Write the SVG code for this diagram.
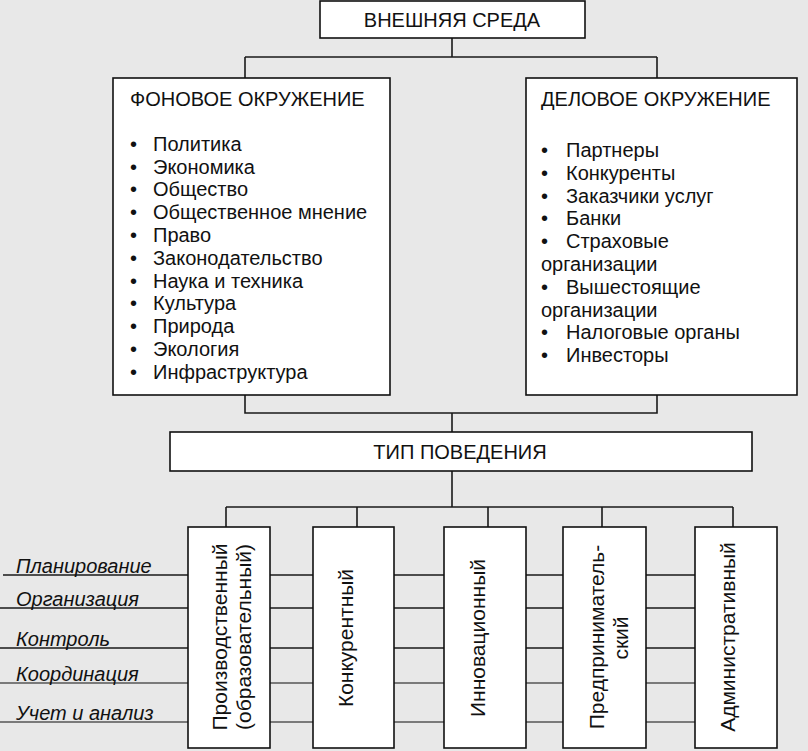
<svg xmlns="http://www.w3.org/2000/svg" width="808" height="751" viewBox="0 0 808 751">
<style>
.bg{fill:#e8e8e8}
.box{fill:#fff;stroke:#111;stroke-width:1.6}
.ln{fill:none;stroke:#1a1a1a;stroke-width:1.6}
.ln2{fill:none;stroke:#555;stroke-width:1.6}
text{font-family:"Liberation Sans",Arial,sans-serif;fill:#111;font-size:20px}
.c{text-anchor:middle}
.it{font-style:italic;font-size:20px}
.v{text-anchor:middle;font-size:21px}
</style>
<rect class="bg" x="0" y="0" width="808" height="751"/>
<g id="connectors">
<path class="ln" d="M452 38V57M245 57H657M245 57V78M657 57V78"/>
<path class="ln" d="M245 395V413H657V395M452 413V432"/>
<path class="ln" d="M452 471V507M226 507H733M226 507V527M357 507V527M488 507V527M602 507V527M733 507V527"/>
<path class="ln" d="M3 575H695M0 608H695M0 648H695"/>
<path class="ln2" d="M0 683H695M0 722H695"/>
</g>
<g id="n-vneshnyaya">
<rect class="box" x="320" y="1" width="265" height="37"/>
<text class="c" x="452" y="27">ВНЕШНЯЯ СРЕДА</text>
</g>
<g id="n-fonovoe">
<rect class="box" x="113" y="78" width="277" height="317"/>
<text x="130" y="106">ФОНОВОЕ ОКРУЖЕНИЕ</text>
<g>
<text x="130" y="151">•</text><text x="153" y="151">Политика</text>
<text x="130" y="174">•</text><text x="153" y="174">Экономика</text>
<text x="130" y="196">•</text><text x="153" y="196">Общество</text>
<text x="130" y="219">•</text><text x="153" y="219">Общественное мнение</text>
<text x="130" y="242">•</text><text x="153" y="242">Право</text>
<text x="130" y="265">•</text><text x="153" y="265">Законодательство</text>
<text x="130" y="288">•</text><text x="153" y="288">Наука и техника</text>
<text x="130" y="310">•</text><text x="153" y="310">Культура</text>
<text x="130" y="333">•</text><text x="153" y="333">Природа</text>
<text x="130" y="356">•</text><text x="153" y="356">Экология</text>
<text x="130" y="379">•</text><text x="153" y="379">Инфраструктура</text>
</g>
</g>
<g id="n-delovoe">
<rect class="box" x="526" y="78" width="271" height="317"/>
<text x="541" y="106">ДЕЛОВОЕ ОКРУЖЕНИЕ</text>
<text x="541" y="157">•</text><text x="566" y="157">Партнеры</text>
<text x="541" y="180">•</text><text x="566" y="180">Конкуренты</text>
<text x="541" y="203">•</text><text x="566" y="203">Заказчики услуг</text>
<text x="541" y="225">•</text><text x="566" y="225">Банки</text>
<text x="541" y="248">•</text><text x="566" y="248">Страховые</text>
<text x="541" y="271">организации</text>
<text x="541" y="294">•</text><text x="566" y="294">Вышестоящие</text>
<text x="541" y="317">организации</text>
<text x="541" y="339">•</text><text x="566" y="339">Налоговые органы</text>
<text x="541" y="362">•</text><text x="566" y="362">Инвесторы</text>
</g>
<g id="n-tip">
<rect class="box" x="170" y="432" width="582" height="39"/>
<text class="c" x="460" y="459">ТИП ПОВЕДЕНИЯ</text>
</g>
<g id="labels">
<text class="it" x="16" y="573">Планирование</text>
<text class="it" x="16" y="606">Организация</text>
<text class="it" x="16" y="646">Контроль</text>
<text class="it" x="16" y="681">Координация</text>
<text class="it" x="16" y="720">Учет и анализ</text>
</g>
<g id="n-proizv">
<rect class="box" x="188" y="527" width="82" height="221"/>
<text class="v" transform="translate(227 637) rotate(-90)">Производственный</text>
<text class="v" transform="translate(251 637) rotate(-90)">(образовательный)</text>
</g>
<g id="n-konkur">
<rect class="box" x="313" y="527" width="81" height="221"/>
<text class="v" transform="translate(353 638) rotate(-90)">Конкурентный</text>
</g>
<g id="n-innov">
<rect class="box" x="444" y="527" width="82" height="221"/>
<text class="v" transform="translate(485 638) rotate(-90)">Инновационный</text>
</g>
<g id="n-predpr">
<rect class="box" x="563" y="527" width="83" height="221"/>
<text class="v" transform="translate(604 637) rotate(-90)">Предприниматель-</text>
<text class="v" transform="translate(628 638) rotate(-90)">ский</text>
</g>
<g id="n-admin">
<rect class="box" x="695" y="527" width="82" height="221"/>
<text class="v" transform="translate(735 637) rotate(-90)">Административный</text>
</g>
</svg>
